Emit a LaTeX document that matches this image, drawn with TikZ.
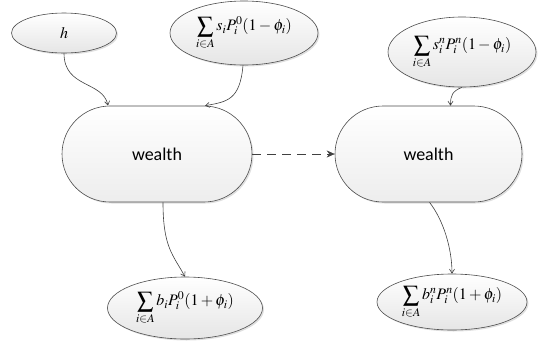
\documentclass[tikz,border=0pt]{standalone}
\usepackage{mathptmx}
\usepackage[no-math]{fontspec}
\newfontfamily\boxfont{Carlito}
\usetikzlibrary{shapes.geometric,shapes.misc,arrows.meta,shadows}
\begin{document}
\begin{tikzpicture}[x=1pt,y=-1pt,
  bubble/.style={ellipse,draw=black!70,line width=0.6pt,inner sep=0pt,
    top color=white,bottom color=black!10,
    drop shadow={opacity=0.25,shadow xshift=1.5pt,shadow yshift=-1.5pt}},
  wealthbox/.style={rounded rectangle,draw=black!70,line width=0.6pt,inner sep=0pt,
    minimum width=190pt,minimum height=96pt,top color=white,bottom color=black!7,
    drop shadow={opacity=0.25,shadow xshift=1.5pt,shadow yshift=-1.5pt},
    font=\boxfont\fontsize{18}{21}\selectfont},
  conn/.style={draw=black!75,line width=0.6pt,-{Straight Barb[length=4pt,width=5pt]}},
  mfont/.style={font=\fontsize{16}{18}\selectfont}]
\useasboundingbox (0,0) rectangle (547,341);
\node[bubble,minimum width=105pt,minimum height=40pt,mfont] (h) at (64,33) {$h$};
\node[bubble,minimum width=148pt,minimum height=64pt,mfont] (s0) at (244,33)
  {$\displaystyle\sum\limits_{i\in A} s_iP_i^0(1-\phi_i)$};
\node[bubble,minimum width=148pt,minimum height=70pt,mfont] (sn) at (462,52)
  {$\displaystyle\sum\limits_{i\in A} s_i^nP_i^n(1-\phi_i)$};
\node[wealthbox] (wL) at (157,154) {wealth};
\node[wealthbox,minimum width=187pt] (wR) at (428.5,154) {wealth};
\node[bubble,minimum width=155pt,minimum height=62pt,mfont] (b0) at (185,308)
  {$\displaystyle\sum\limits_{i\in A} b_iP_i^0(1+\phi_i)$};
\node[bubble,minimum width=150pt,minimum height=56pt,mfont] (bn) at (452,302)
  {$\displaystyle\sum\limits_{i\in A} b_i^nP_i^n(1+\phi_i)$};
\draw[conn] (h.south) .. controls +(0,35) and +(-5,-25) .. ([xshift=-49pt]wL.north);
\draw[conn] ([xshift=-1pt]s0.south) .. controls +(-3,35) and +(22,-4) .. ([xshift=48pt]wL.north);
\draw[conn] (sn.south) .. controls +(-10,4) and +(0,-10) .. ([xshift=22pt]wR.north);
\draw[conn] ([xshift=6pt]wL.south) .. controls +(0,45) and +(-12,-22) .. (b0.north);
\draw[conn] ([xshift=1pt]wR.south) .. controls +(14,18) and +(0,-25) .. (bn.north);
\draw[draw=black!75,line width=0.7pt,dash pattern=on 9pt off 6pt,-{Stealth[length=8pt,width=7pt]}] (wL.east) -- (wR.west);
\end{tikzpicture}
\end{document}
